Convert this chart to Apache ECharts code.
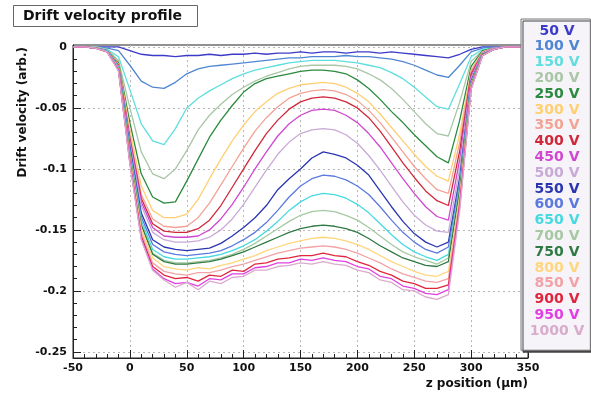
<!DOCTYPE html>
<html>
<head>
<meta charset="utf-8">
<script src="https://cdn.jsdelivr.net/npm/echarts@6/dist/echarts.min.js"></script>
<style>
  html, body { margin: 0; padding: 0; background: #fff; }
  #chart { width: 591px; height: 394px; }
</style>
</head>
<body>
<div id="chart"></div>
<script>
// z positions (um) of the sampled profile points
var zPos = [-50,-40,-30,-20,-10,0,10,20,30,40,50,60,70,80,90,100,110,120,130,140,150,160,170,180,190,200,210,220,230,240,250,260,270,280,290,300,310,320,330,340,350];

var voltages = ['50 V','100 V','150 V','200 V','250 V','300 V','350 V','400 V','450 V','500 V',
                '550 V','600 V','650 V','700 V','750 V','800 V','850 V','900 V','950 V','1000 V'];

var colors = ['#3b3bc8','#4f86d2','#5edede','#a9c6a6','#2b8a3e','#ffcf72','#f2a394','#d0283a','#d048d0','#c9aad6',
              '#2a36b0','#5b79de','#45d9e2','#a6c8a2','#2f7a42','#ffd67c','#f2a2a6','#e0263e','#e040e0','#d9abcc'];

var v50  = [0,0,0,0,0,-0.003,-0.006,-0.007,-0.007,-0.008,-0.007,-0.007,-0.006,-0.007,-0.006,-0.006,-0.005,-0.006,-0.005,-0.005,-0.004,-0.005,-0.004,-0.004,-0.005,-0.004,-0.004,-0.005,-0.004,-0.005,-0.006,-0.007,-0.008,-0.009,-0.006,-0.002,0,0,0,0,0];
var v100 = [0,0,0,-0.001,-0.003,-0.015,-0.028,-0.033,-0.034,-0.029,-0.022,-0.018,-0.016,-0.015,-0.014,-0.013,-0.012,-0.011,-0.01,-0.009,-0.009,-0.008,-0.008,-0.008,-0.007,-0.008,-0.008,-0.009,-0.01,-0.012,-0.015,-0.019,-0.023,-0.025,-0.015,-0.004,-0.001,0,0,0,0];
var v150 = [0,0,0,-0.002,-0.008,-0.035,-0.063,-0.077,-0.08,-0.067,-0.05,-0.042,-0.036,-0.031,-0.026,-0.022,-0.019,-0.017,-0.015,-0.013,-0.012,-0.011,-0.011,-0.011,-0.012,-0.013,-0.015,-0.017,-0.021,-0.026,-0.033,-0.041,-0.049,-0.051,-0.03,-0.008,-0.002,-0.001,0,0,0];
var v200 = [0,0,0,-0.002,-0.011,-0.05,-0.086,-0.104,-0.108,-0.1,-0.085,-0.068,-0.056,-0.047,-0.039,-0.033,-0.028,-0.024,-0.021,-0.018,-0.016,-0.015,-0.015,-0.015,-0.016,-0.018,-0.022,-0.027,-0.034,-0.043,-0.053,-0.063,-0.071,-0.073,-0.045,-0.012,-0.003,-0.001,0,0,0];
var v250 = [0,0,-0.001,-0.003,-0.013,-0.062,-0.104,-0.123,-0.128,-0.127,-0.11,-0.092,-0.074,-0.06,-0.048,-0.037,-0.03,-0.026,-0.024,-0.022,-0.02,-0.019,-0.019,-0.02,-0.022,-0.027,-0.034,-0.043,-0.053,-0.062,-0.072,-0.081,-0.09,-0.095,-0.06,-0.016,-0.003,-0.001,0,0,0];
var v300 = [0,0,-0.001,-0.003,-0.014,-0.068,-0.114,-0.134,-0.14,-0.14,-0.137,-0.125,-0.108,-0.092,-0.077,-0.064,-0.053,-0.045,-0.038,-0.034,-0.031,-0.03,-0.029,-0.03,-0.033,-0.038,-0.045,-0.055,-0.066,-0.077,-0.088,-0.098,-0.106,-0.11,-0.071,-0.019,-0.004,-0.001,0,0,0];
var v350 = [0,0,-0.001,-0.003,-0.015,-0.073,-0.121,-0.141,-0.147,-0.148,-0.147,-0.14,-0.128,-0.113,-0.098,-0.083,-0.069,-0.058,-0.049,-0.042,-0.038,-0.036,-0.035,-0.036,-0.039,-0.044,-0.052,-0.062,-0.074,-0.086,-0.098,-0.108,-0.117,-0.12,-0.078,-0.02,-0.004,-0.001,0,0,0];
var v400 = [0,0,-0.001,-0.003,-0.015,-0.075,-0.124,-0.145,-0.151,-0.152,-0.152,-0.149,-0.142,-0.13,-0.115,-0.1,-0.085,-0.071,-0.06,-0.051,-0.045,-0.042,-0.041,-0.042,-0.045,-0.05,-0.058,-0.069,-0.082,-0.095,-0.107,-0.118,-0.126,-0.13,-0.085,-0.022,-0.005,-0.001,0,0,0];
var v450 = [0,0,-0.001,-0.003,-0.016,-0.077,-0.127,-0.148,-0.155,-0.156,-0.156,-0.155,-0.15,-0.141,-0.129,-0.115,-0.1,-0.086,-0.073,-0.063,-0.056,-0.052,-0.051,-0.052,-0.056,-0.062,-0.071,-0.082,-0.095,-0.108,-0.12,-0.131,-0.139,-0.142,-0.092,-0.024,-0.005,-0.001,0,0,0];
var v500 = [0,0,-0.001,-0.003,-0.016,-0.079,-0.13,-0.152,-0.158,-0.16,-0.16,-0.159,-0.156,-0.15,-0.141,-0.129,-0.115,-0.101,-0.088,-0.078,-0.071,-0.068,-0.067,-0.068,-0.072,-0.079,-0.089,-0.101,-0.114,-0.127,-0.138,-0.146,-0.151,-0.152,-0.099,-0.026,-0.005,-0.001,0,0,0];
var v550 = [0,0,-0.001,-0.003,-0.017,-0.082,-0.136,-0.158,-0.164,-0.166,-0.167,-0.166,-0.165,-0.161,-0.155,-0.148,-0.14,-0.13,-0.117,-0.108,-0.1,-0.091,-0.086,-0.088,-0.091,-0.097,-0.105,-0.118,-0.131,-0.143,-0.153,-0.16,-0.164,-0.16,-0.107,-0.028,-0.006,-0.002,0,0,0];
var v600 = [0,0,-0.001,-0.003,-0.017,-0.084,-0.139,-0.162,-0.168,-0.17,-0.171,-0.17,-0.169,-0.167,-0.163,-0.158,-0.152,-0.144,-0.134,-0.123,-0.114,-0.108,-0.105,-0.106,-0.109,-0.114,-0.121,-0.131,-0.142,-0.152,-0.16,-0.166,-0.169,-0.164,-0.11,-0.029,-0.006,-0.002,0,0,0];
var v650 = [0,0,-0.001,-0.003,-0.017,-0.086,-0.142,-0.166,-0.172,-0.174,-0.174,-0.173,-0.172,-0.17,-0.167,-0.163,-0.158,-0.151,-0.143,-0.134,-0.127,-0.122,-0.12,-0.121,-0.124,-0.129,-0.136,-0.145,-0.154,-0.162,-0.168,-0.172,-0.175,-0.17,-0.114,-0.03,-0.006,-0.002,0,0,0];
var v700 = [0,0,-0.001,-0.004,-0.018,-0.088,-0.145,-0.169,-0.175,-0.177,-0.177,-0.176,-0.175,-0.173,-0.17,-0.166,-0.161,-0.155,-0.149,-0.143,-0.138,-0.135,-0.134,-0.135,-0.138,-0.142,-0.148,-0.155,-0.162,-0.168,-0.172,-0.175,-0.178,-0.173,-0.116,-0.03,-0.006,-0.002,0,0,0];
var v750 = [0,0,-0.001,-0.004,-0.018,-0.089,-0.146,-0.17,-0.176,-0.178,-0.178,-0.177,-0.176,-0.174,-0.171,-0.168,-0.164,-0.16,-0.156,-0.152,-0.149,-0.147,-0.146,-0.147,-0.149,-0.152,-0.157,-0.163,-0.168,-0.173,-0.176,-0.179,-0.18,-0.176,-0.117,-0.031,-0.006,-0.002,0,0,0];
var v800 = [0,0,-0.001,-0.004,-0.018,-0.091,-0.149,-0.173,-0.18,-0.182,-0.183,-0.181,-0.182,-0.179,-0.177,-0.174,-0.171,-0.167,-0.164,-0.161,-0.159,-0.157,-0.156,-0.157,-0.159,-0.162,-0.166,-0.171,-0.176,-0.18,-0.184,-0.187,-0.188,-0.184,-0.122,-0.032,-0.007,-0.002,0,0,0];
var v850 = [0,0,-0.001,-0.004,-0.019,-0.093,-0.152,-0.177,-0.184,-0.186,-0.187,-0.185,-0.185,-0.183,-0.18,-0.178,-0.175,-0.172,-0.169,-0.167,-0.165,-0.164,-0.163,-0.164,-0.166,-0.169,-0.173,-0.177,-0.182,-0.186,-0.189,-0.192,-0.193,-0.19,-0.125,-0.033,-0.007,-0.002,0,0,0];
var v900 = [0,0,-0.001,-0.004,-0.019,-0.094,-0.155,-0.18,-0.187,-0.19,-0.189,-0.192,-0.187,-0.188,-0.183,-0.184,-0.178,-0.177,-0.174,-0.173,-0.171,-0.171,-0.169,-0.171,-0.172,-0.176,-0.179,-0.184,-0.187,-0.192,-0.194,-0.198,-0.198,-0.195,-0.129,-0.034,-0.007,-0.002,0,0,0];
var v950 = [0,0,-0.001,-0.004,-0.019,-0.095,-0.157,-0.182,-0.19,-0.194,-0.193,-0.196,-0.19,-0.191,-0.186,-0.186,-0.181,-0.18,-0.177,-0.177,-0.174,-0.175,-0.173,-0.175,-0.176,-0.18,-0.182,-0.188,-0.19,-0.196,-0.198,-0.202,-0.203,-0.199,-0.131,-0.034,-0.007,-0.002,0,0,0];
var v1000 = [0,0,-0.001,-0.004,-0.02,-0.096,-0.158,-0.183,-0.191,-0.197,-0.193,-0.199,-0.192,-0.194,-0.189,-0.188,-0.183,-0.183,-0.18,-0.179,-0.177,-0.178,-0.176,-0.178,-0.179,-0.183,-0.185,-0.191,-0.193,-0.199,-0.2,-0.205,-0.207,-0.203,-0.134,-0.035,-0.007,-0.002,0,0,0];

var profiles = [v50,v100,v150,v200,v250,v300,v350,v400,v450,v500,
                v550,v600,v650,v700,v750,v800,v850,v900,v950,v1000];

var yMajor = [-0.25,-0.2,-0.15,-0.1,-0.05,0];
var yMinor = [-0.25,-0.24,-0.23,-0.22,-0.21,-0.2,-0.19,-0.18,-0.17,-0.16,-0.15,-0.14,-0.13,-0.12,-0.11,-0.1,
              -0.09,-0.08,-0.07,-0.06,-0.05,-0.04,-0.03,-0.02,-0.01,0];

var font = 'DejaVu Sans';

var series = profiles.map(function (vals, i) {
    return {
        name: voltages[i],
        type: 'line',
        xAxisIndex: 0,
        yAxisIndex: 0,
        showSymbol: false,
        symbol: 'none',
        lineStyle: { width: 1.3, color: colors[i] },
        itemStyle: { color: colors[i] },
        data: zPos.map(function (z, k) { return [z, vals[k]]; })
    };
});

var myChart = echarts.init(document.getElementById('chart'));
myChart.setOption({
    animation: false,
    backgroundColor: '#fff',
    title: {
        text: 'Drift velocity profile',
        left: 13,
        top: 5,
        padding: [4, 16, 4, 10],
        borderColor: '#666',
        borderWidth: 1,
        textStyle: { fontFamily: font, fontSize: 14, fontWeight: 'bold', color: '#111' }
    },
    grid: {
        left: 73, right: 63, top: 45, bottom: 36,
        show: true, borderColor: '#222', borderWidth: 1, backgroundColor: 'transparent'
    },
    legend: {
        orient: 'vertical',
        left: 521,
        top: 19,
        icon: 'none',
        itemWidth: 0,
        itemHeight: 10,
        itemGap: 1.8,
        padding: [5, 6, 12, 4],
        backgroundColor: '#f6f4f8',
        borderColor: '#777',
        borderWidth: 1,
        shadowColor: '#444',
        shadowBlur: 0,
        shadowOffsetX: 2,
        shadowOffsetY: 2,
        formatter: '{a|{name}}',
        textStyle: {
            fontFamily: font, fontSize: 14, fontWeight: 'bold', lineHeight: 14,
            rich: { a: { width: 54, align: 'center', fontFamily: font, fontSize: 14, fontWeight: 'bold', lineHeight: 14 } }
        },
        data: voltages.map(function (v, i) {
            return { name: v, textStyle: { color: colors[i] } };
        })
    },
    xAxis: [{
        type: 'value',
        min: -50, max: 350, interval: 50,
        name: 'z position (\u03bcm)',
        nameLocation: 'end',
        nameGap: 0,
        nameTextStyle: { fontFamily: font, fontSize: 12, fontWeight: 'bold', color: '#111',
                         align: 'right', verticalAlign: 'top', padding: [20, 0, 0, 0] },
        axisLine: { show: true, onZero: false, lineStyle: { color: '#222' } },
        axisTick: { inside: true, length: 8, lineStyle: { color: '#222' } },
        minorTick: { show: true, splitNumber: 5, length: 4, lineStyle: { color: '#222' } },
        axisLabel: { fontFamily: font, fontSize: 11, fontWeight: 'bold', color: '#111', margin: 5 },
        splitLine: { show: true, lineStyle: { color: '#b8b8b8', type: [2, 3] } }
    }],
    yAxis: [{
        type: 'value',
        min: -0.255, max: 0.0016,
        name: 'Drift velocity (arb.)',
        nameLocation: 'end',
        nameRotate: 90,
        nameGap: -2,
        nameTextStyle: { fontFamily: font, fontSize: 12, fontWeight: 'bold', color: '#111',
                         align: 'right', verticalAlign: 'bottom', padding: [0, 0, 44, 0] },
        axisLine: { show: true, onZero: false, lineStyle: { color: '#222' } },
        axisTick: { inside: true, length: 8, customValues: yMajor, lineStyle: { color: '#222' } },
        axisLabel: { customValues: yMajor, fontFamily: font, fontSize: 11, fontWeight: 'bold', color: '#111', margin: 6 },
        splitLine: { show: true, lineStyle: { color: '#b8b8b8', type: [2, 3] } }
    }, {
        type: 'value',
        min: -0.255, max: 0.0016,
        position: 'left',
        offset: 0,
        axisLine: { show: false, onZero: false },
        axisTick: { inside: true, length: 4, customValues: yMinor, lineStyle: { color: '#222' } },
        axisLabel: { show: false },
        splitLine: { show: false }
    }],
    series: series
});
</script>
</body>
</html>
